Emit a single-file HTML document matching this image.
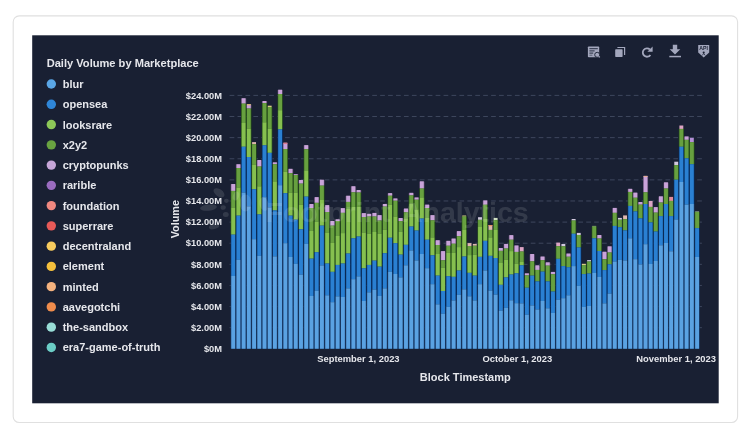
<!DOCTYPE html>
<html><head><meta charset="utf-8"><title>Daily Volume by Marketplace</title>
<style>html,body{margin:0;padding:0;background:#fff;}body{width:750px;height:436px;overflow:hidden;font-family:"Liberation Sans",sans-serif;}svg{display:block}text{font-family:"Liberation Sans",sans-serif;font-weight:bold;}</style>
</head><body>
<svg width="750" height="436" viewBox="0 0 750 436">
<rect x="0" y="0" width="750" height="436" fill="#ffffff"/>
<defs><filter id="idf" x="0" y="0" width="750" height="436" filterUnits="userSpaceOnUse" color-interpolation-filters="sRGB"><feGaussianBlur stdDeviation="0.35"/></filter></defs>
<g filter="url(#idf)">
<rect x="13.2" y="15.9" width="724.4" height="406.6" rx="6" ry="6" fill="#ffffff" stroke="#e0e0e0" stroke-width="1.1"/>
<rect x="32.2" y="35.3" width="686.5" height="368" fill="#192033"/>
<text x="46.7" y="67.2" font-size="11.1" fill="#e6e7ec">Daily Volume by Marketplace</text>
<circle cx="51.3" cy="84.05" r="4.7" fill="#5aa6e6"/>
<text x="62.7" y="88.05" font-size="11" fill="#e6e7ec">blur</text>
<circle cx="51.3" cy="104.31" r="4.7" fill="#2f86d8"/>
<text x="62.7" y="108.31" font-size="11" fill="#e6e7ec">opensea</text>
<circle cx="51.3" cy="124.57" r="4.7" fill="#8dc858"/>
<text x="62.7" y="128.57" font-size="11" fill="#e6e7ec">looksrare</text>
<circle cx="51.3" cy="144.83" r="4.7" fill="#69a341"/>
<text x="62.7" y="148.83" font-size="11" fill="#e6e7ec">x2y2</text>
<circle cx="51.3" cy="165.09" r="4.7" fill="#c6a6d8"/>
<text x="62.7" y="169.09" font-size="11" fill="#e6e7ec">cryptopunks</text>
<circle cx="51.3" cy="185.35" r="4.7" fill="#9a6cc0"/>
<text x="62.7" y="189.35" font-size="11" fill="#e6e7ec">rarible</text>
<circle cx="51.3" cy="205.61" r="4.7" fill="#f08880"/>
<text x="62.7" y="209.61" font-size="11" fill="#e6e7ec">foundation</text>
<circle cx="51.3" cy="225.87" r="4.7" fill="#e85a58"/>
<text x="62.7" y="229.87" font-size="11" fill="#e6e7ec">superrare</text>
<circle cx="51.3" cy="246.13" r="4.7" fill="#f8cc5e"/>
<text x="62.7" y="250.13" font-size="11" fill="#e6e7ec">decentraland</text>
<circle cx="51.3" cy="266.39" r="4.7" fill="#f5c03c"/>
<text x="62.7" y="270.39" font-size="11" fill="#e6e7ec">element</text>
<circle cx="51.3" cy="286.65" r="4.7" fill="#f5b27e"/>
<text x="62.7" y="290.65" font-size="11" fill="#e6e7ec">minted</text>
<circle cx="51.3" cy="306.91" r="4.7" fill="#f08c4c"/>
<text x="62.7" y="310.91" font-size="11" fill="#e6e7ec">aavegotchi</text>
<circle cx="51.3" cy="327.17" r="4.7" fill="#98ddd7"/>
<text x="62.7" y="331.17" font-size="11" fill="#e6e7ec">the-sandbox</text>
<circle cx="51.3" cy="347.43" r="4.7" fill="#6bcdc6"/>
<text x="62.7" y="351.43" font-size="11" fill="#e6e7ec">era7-game-of-truth</text>
<text transform="translate(222 352.00) scale(0.95 1)" x="0" y="0" font-size="9.8" text-anchor="end" fill="#e6e7ec">$0M</text>
<text transform="translate(222 330.88) scale(0.95 1)" x="0" y="0" font-size="9.8" text-anchor="end" fill="#e6e7ec">$2.00M</text>
<line x1="229.6" y1="327.68" x2="702" y2="327.68" stroke="#566079" stroke-width="0.6" stroke-dasharray="4.7 3.225"/>
<text transform="translate(222 309.77) scale(0.95 1)" x="0" y="0" font-size="9.8" text-anchor="end" fill="#e6e7ec">$4.00M</text>
<line x1="229.6" y1="306.57" x2="702" y2="306.57" stroke="#566079" stroke-width="0.6" stroke-dasharray="4.7 3.225"/>
<text transform="translate(222 288.65) scale(0.95 1)" x="0" y="0" font-size="9.8" text-anchor="end" fill="#e6e7ec">$6.00M</text>
<line x1="229.6" y1="285.45" x2="702" y2="285.45" stroke="#566079" stroke-width="0.6" stroke-dasharray="4.7 3.225"/>
<text transform="translate(222 267.53) scale(0.95 1)" x="0" y="0" font-size="9.8" text-anchor="end" fill="#e6e7ec">$8.00M</text>
<line x1="229.6" y1="264.33" x2="702" y2="264.33" stroke="#566079" stroke-width="0.6" stroke-dasharray="4.7 3.225"/>
<text transform="translate(222 246.41) scale(0.95 1)" x="0" y="0" font-size="9.8" text-anchor="end" fill="#e6e7ec">$10.00M</text>
<line x1="229.6" y1="243.21" x2="702" y2="243.21" stroke="#566079" stroke-width="0.6" stroke-dasharray="4.7 3.225"/>
<text transform="translate(222 225.30) scale(0.95 1)" x="0" y="0" font-size="9.8" text-anchor="end" fill="#e6e7ec">$12.00M</text>
<line x1="229.6" y1="222.10" x2="702" y2="222.10" stroke="#566079" stroke-width="0.6" stroke-dasharray="4.7 3.225"/>
<text transform="translate(222 204.18) scale(0.95 1)" x="0" y="0" font-size="9.8" text-anchor="end" fill="#e6e7ec">$14.00M</text>
<line x1="229.6" y1="200.98" x2="702" y2="200.98" stroke="#566079" stroke-width="0.6" stroke-dasharray="4.7 3.225"/>
<text transform="translate(222 183.06) scale(0.95 1)" x="0" y="0" font-size="9.8" text-anchor="end" fill="#e6e7ec">$16.00M</text>
<line x1="229.6" y1="179.86" x2="702" y2="179.86" stroke="#566079" stroke-width="0.6" stroke-dasharray="4.7 3.225"/>
<text transform="translate(222 161.95) scale(0.95 1)" x="0" y="0" font-size="9.8" text-anchor="end" fill="#e6e7ec">$18.00M</text>
<line x1="229.6" y1="158.75" x2="702" y2="158.75" stroke="#566079" stroke-width="0.6" stroke-dasharray="4.7 3.225"/>
<text transform="translate(222 140.83) scale(0.95 1)" x="0" y="0" font-size="9.8" text-anchor="end" fill="#e6e7ec">$20.00M</text>
<line x1="229.6" y1="137.63" x2="702" y2="137.63" stroke="#566079" stroke-width="0.6" stroke-dasharray="4.7 3.225"/>
<text transform="translate(222 119.71) scale(0.95 1)" x="0" y="0" font-size="9.8" text-anchor="end" fill="#e6e7ec">$22.00M</text>
<line x1="229.6" y1="116.51" x2="702" y2="116.51" stroke="#566079" stroke-width="0.6" stroke-dasharray="4.7 3.225"/>
<text transform="translate(222 98.60) scale(0.95 1)" x="0" y="0" font-size="9.8" text-anchor="end" fill="#e6e7ec">$24.00M</text>
<line x1="229.6" y1="95.40" x2="702" y2="95.40" stroke="#566079" stroke-width="0.6" stroke-dasharray="4.7 3.225"/>
<text transform="translate(178.6 219.2) rotate(-90)" font-size="10.8" text-anchor="middle" fill="#e6e7ec">Volume</text>
<g>
<rect x="230.60" y="184.30" width="5.26" height="6.65" fill="#504060"/>
<rect x="230.60" y="190.90" width="5.26" height="16.65" fill="#244a18"/>
<rect x="230.60" y="207.50" width="5.26" height="27.15" fill="#2c571e"/>
<rect x="230.60" y="234.60" width="5.26" height="41.35" fill="#062c60"/>
<rect x="230.60" y="275.90" width="5.26" height="72.85" fill="#163866"/>
<rect x="235.81" y="164.50" width="5.26" height="3.55" fill="#504060"/>
<rect x="235.81" y="168.00" width="5.26" height="19.55" fill="#244a18"/>
<rect x="235.81" y="187.50" width="5.26" height="28.15" fill="#2c571e"/>
<rect x="235.81" y="215.60" width="5.26" height="44.25" fill="#062c60"/>
<rect x="235.81" y="259.80" width="5.26" height="88.95" fill="#163866"/>
<rect x="241.02" y="98.50" width="5.26" height="5.15" fill="#504060"/>
<rect x="241.02" y="103.60" width="5.26" height="19.45" fill="#244a18"/>
<rect x="241.02" y="123.00" width="5.26" height="23.75" fill="#2c571e"/>
<rect x="241.02" y="146.70" width="5.26" height="45.95" fill="#062c60"/>
<rect x="241.02" y="192.60" width="5.26" height="156.15" fill="#163866"/>
<rect x="246.24" y="104.50" width="5.26" height="4.05" fill="#504060"/>
<rect x="246.24" y="108.50" width="5.26" height="20.25" fill="#244a18"/>
<rect x="246.24" y="128.70" width="5.26" height="28.35" fill="#2c571e"/>
<rect x="246.24" y="157.00" width="5.26" height="49.45" fill="#062c60"/>
<rect x="246.24" y="206.40" width="5.26" height="142.35" fill="#163866"/>
<rect x="251.45" y="144.20" width="5.26" height="20.65" fill="#244a18"/>
<rect x="251.45" y="164.80" width="5.26" height="24.45" fill="#2c571e"/>
<rect x="251.45" y="189.20" width="5.26" height="50.05" fill="#062c60"/>
<rect x="251.45" y="239.20" width="5.26" height="109.55" fill="#163866"/>
<rect x="256.66" y="160.30" width="5.26" height="6.25" fill="#504060"/>
<rect x="256.66" y="166.50" width="5.26" height="19.85" fill="#244a18"/>
<rect x="256.66" y="186.30" width="5.26" height="28.15" fill="#2c571e"/>
<rect x="256.66" y="214.40" width="5.26" height="41.45" fill="#062c60"/>
<rect x="256.66" y="255.80" width="5.26" height="92.95" fill="#163866"/>
<rect x="261.88" y="101.30" width="5.26" height="1.85" fill="#504060"/>
<rect x="261.88" y="103.10" width="5.26" height="19.25" fill="#244a18"/>
<rect x="261.88" y="122.30" width="5.26" height="23.05" fill="#2c571e"/>
<rect x="261.88" y="145.30" width="5.26" height="51.95" fill="#062c60"/>
<rect x="261.88" y="197.20" width="5.26" height="151.55" fill="#163866"/>
<rect x="267.09" y="107.00" width="5.26" height="21.75" fill="#244a18"/>
<rect x="267.09" y="128.70" width="5.26" height="24.15" fill="#2c571e"/>
<rect x="267.09" y="152.80" width="5.26" height="54.75" fill="#062c60"/>
<rect x="267.09" y="207.50" width="5.26" height="141.25" fill="#163866"/>
<rect x="272.31" y="162.60" width="5.26" height="1.65" fill="#504060"/>
<rect x="272.31" y="164.20" width="5.26" height="17.25" fill="#244a18"/>
<rect x="272.31" y="181.40" width="5.26" height="29.05" fill="#2c571e"/>
<rect x="272.31" y="210.40" width="5.26" height="46.05" fill="#062c60"/>
<rect x="272.31" y="256.40" width="5.26" height="92.35" fill="#163866"/>
<rect x="277.52" y="90.00" width="5.26" height="4.05" fill="#504060"/>
<rect x="277.52" y="94.00" width="5.26" height="16.25" fill="#244a18"/>
<rect x="277.52" y="110.20" width="5.26" height="19.25" fill="#2c571e"/>
<rect x="277.52" y="129.40" width="5.26" height="55.85" fill="#062c60"/>
<rect x="277.52" y="185.20" width="5.26" height="163.55" fill="#163866"/>
<rect x="282.74" y="143.00" width="5.26" height="6.05" fill="#504060"/>
<rect x="282.74" y="149.00" width="5.26" height="22.65" fill="#244a18"/>
<rect x="282.74" y="171.60" width="5.26" height="21.65" fill="#2c571e"/>
<rect x="282.74" y="193.20" width="5.26" height="50.05" fill="#062c60"/>
<rect x="282.74" y="243.20" width="5.26" height="105.55" fill="#163866"/>
<rect x="287.95" y="169.10" width="5.26" height="4.15" fill="#504060"/>
<rect x="287.95" y="173.20" width="5.26" height="19.45" fill="#244a18"/>
<rect x="287.95" y="192.60" width="5.26" height="23.05" fill="#2c571e"/>
<rect x="287.95" y="215.60" width="5.26" height="41.45" fill="#062c60"/>
<rect x="287.95" y="257.00" width="5.26" height="91.75" fill="#163866"/>
<rect x="293.16" y="174.50" width="5.26" height="0.55" fill="#504060"/>
<rect x="293.16" y="175.00" width="5.26" height="17.65" fill="#244a18"/>
<rect x="293.16" y="192.60" width="5.26" height="27.05" fill="#2c571e"/>
<rect x="293.16" y="219.60" width="5.26" height="44.25" fill="#062c60"/>
<rect x="293.16" y="263.80" width="5.26" height="84.95" fill="#163866"/>
<rect x="298.38" y="180.30" width="5.26" height="3.35" fill="#504060"/>
<rect x="298.38" y="183.60" width="5.26" height="21.15" fill="#244a18"/>
<rect x="298.38" y="204.70" width="5.26" height="24.65" fill="#2c571e"/>
<rect x="298.38" y="229.30" width="5.26" height="45.45" fill="#062c60"/>
<rect x="298.38" y="274.70" width="5.26" height="74.05" fill="#163866"/>
<rect x="303.59" y="145.40" width="5.28" height="3.85" fill="#504060"/>
<rect x="303.59" y="149.20" width="5.28" height="21.25" fill="#244a18"/>
<rect x="303.59" y="170.40" width="5.28" height="26.25" fill="#2c571e"/>
<rect x="303.59" y="196.60" width="5.28" height="47.25" fill="#062c60"/>
<rect x="303.59" y="243.80" width="5.28" height="104.95" fill="#163866"/>
<rect x="308.82" y="204.30" width="5.29" height="3.75" fill="#504060"/>
<rect x="308.82" y="208.00" width="5.29" height="22.85" fill="#244a18"/>
<rect x="308.82" y="230.80" width="5.29" height="27.85" fill="#2c571e"/>
<rect x="308.82" y="258.60" width="5.29" height="37.35" fill="#062c60"/>
<rect x="308.82" y="295.90" width="5.29" height="52.85" fill="#163866"/>
<rect x="314.07" y="197.40" width="5.29" height="5.45" fill="#504060"/>
<rect x="314.07" y="202.80" width="5.29" height="18.85" fill="#244a18"/>
<rect x="314.07" y="221.60" width="5.29" height="30.65" fill="#2c571e"/>
<rect x="314.07" y="252.20" width="5.29" height="38.55" fill="#062c60"/>
<rect x="314.07" y="290.70" width="5.29" height="58.05" fill="#163866"/>
<rect x="319.31" y="180.00" width="5.29" height="5.65" fill="#504060"/>
<rect x="319.31" y="185.60" width="5.29" height="14.45" fill="#244a18"/>
<rect x="319.31" y="200.00" width="5.29" height="25.65" fill="#2c571e"/>
<rect x="319.31" y="225.60" width="5.29" height="39.95" fill="#062c60"/>
<rect x="319.31" y="265.50" width="5.29" height="83.25" fill="#163866"/>
<rect x="324.55" y="205.40" width="5.29" height="6.65" fill="#504060"/>
<rect x="324.55" y="212.00" width="5.29" height="20.55" fill="#244a18"/>
<rect x="324.55" y="232.50" width="5.29" height="31.05" fill="#2c571e"/>
<rect x="324.55" y="263.50" width="5.29" height="31.85" fill="#062c60"/>
<rect x="324.55" y="295.30" width="5.29" height="53.45" fill="#163866"/>
<rect x="329.80" y="221.30" width="5.29" height="4.35" fill="#504060"/>
<rect x="329.80" y="225.60" width="5.29" height="17.25" fill="#244a18"/>
<rect x="329.80" y="242.80" width="5.29" height="29.05" fill="#2c571e"/>
<rect x="329.80" y="271.80" width="5.29" height="30.45" fill="#062c60"/>
<rect x="329.80" y="302.20" width="5.29" height="46.55" fill="#163866"/>
<rect x="335.04" y="219.60" width="5.29" height="1.45" fill="#504060"/>
<rect x="335.04" y="221.00" width="5.29" height="15.05" fill="#244a18"/>
<rect x="335.04" y="236.00" width="5.29" height="28.95" fill="#2c571e"/>
<rect x="335.04" y="264.90" width="5.29" height="31.55" fill="#062c60"/>
<rect x="335.04" y="296.40" width="5.29" height="52.35" fill="#163866"/>
<rect x="340.28" y="208.40" width="5.29" height="4.45" fill="#504060"/>
<rect x="340.28" y="212.80" width="5.29" height="20.35" fill="#244a18"/>
<rect x="340.28" y="233.10" width="5.29" height="30.45" fill="#2c571e"/>
<rect x="340.28" y="263.50" width="5.29" height="33.55" fill="#062c60"/>
<rect x="340.28" y="297.00" width="5.29" height="51.75" fill="#163866"/>
<rect x="345.53" y="196.00" width="5.29" height="5.95" fill="#504060"/>
<rect x="345.53" y="201.90" width="5.29" height="7.15" fill="#244a18"/>
<rect x="345.53" y="209.00" width="5.29" height="44.55" fill="#2c571e"/>
<rect x="345.53" y="253.50" width="5.29" height="34.95" fill="#062c60"/>
<rect x="345.53" y="288.40" width="5.29" height="60.35" fill="#163866"/>
<rect x="350.77" y="186.50" width="5.29" height="5.85" fill="#504060"/>
<rect x="350.77" y="192.30" width="5.29" height="14.65" fill="#244a18"/>
<rect x="350.77" y="206.90" width="5.29" height="31.45" fill="#2c571e"/>
<rect x="350.77" y="238.30" width="5.29" height="40.95" fill="#062c60"/>
<rect x="350.77" y="279.20" width="5.29" height="69.55" fill="#163866"/>
<rect x="356.02" y="190.30" width="5.29" height="2.25" fill="#504060"/>
<rect x="356.02" y="192.50" width="5.29" height="14.45" fill="#244a18"/>
<rect x="356.02" y="206.90" width="5.29" height="29.65" fill="#2c571e"/>
<rect x="356.02" y="236.50" width="5.29" height="39.95" fill="#062c60"/>
<rect x="356.02" y="276.40" width="5.29" height="72.35" fill="#163866"/>
<rect x="361.26" y="213.40" width="5.29" height="3.65" fill="#504060"/>
<rect x="361.26" y="217.00" width="5.29" height="15.55" fill="#244a18"/>
<rect x="361.26" y="232.50" width="5.29" height="35.85" fill="#2c571e"/>
<rect x="361.26" y="268.30" width="5.29" height="32.75" fill="#062c60"/>
<rect x="361.26" y="301.00" width="5.29" height="47.75" fill="#163866"/>
<rect x="366.50" y="214.10" width="5.29" height="2.45" fill="#504060"/>
<rect x="366.50" y="216.50" width="5.29" height="17.25" fill="#244a18"/>
<rect x="366.50" y="233.70" width="5.29" height="31.25" fill="#2c571e"/>
<rect x="366.50" y="264.90" width="5.29" height="27.55" fill="#062c60"/>
<rect x="366.50" y="292.40" width="5.29" height="56.35" fill="#163866"/>
<rect x="371.75" y="213.20" width="5.29" height="3.35" fill="#504060"/>
<rect x="371.75" y="216.50" width="5.29" height="15.55" fill="#244a18"/>
<rect x="371.75" y="232.00" width="5.29" height="28.65" fill="#2c571e"/>
<rect x="371.75" y="260.60" width="5.29" height="29.05" fill="#062c60"/>
<rect x="371.75" y="289.60" width="5.29" height="59.15" fill="#163866"/>
<rect x="376.99" y="215.40" width="5.29" height="5.15" fill="#504060"/>
<rect x="376.99" y="220.50" width="5.29" height="13.25" fill="#244a18"/>
<rect x="376.99" y="233.70" width="5.29" height="32.95" fill="#2c571e"/>
<rect x="376.99" y="266.60" width="5.29" height="29.35" fill="#062c60"/>
<rect x="376.99" y="295.90" width="5.29" height="52.85" fill="#163866"/>
<rect x="382.23" y="204.30" width="5.29" height="2.25" fill="#504060"/>
<rect x="382.23" y="206.50" width="5.29" height="23.25" fill="#244a18"/>
<rect x="382.23" y="229.70" width="5.29" height="23.55" fill="#2c571e"/>
<rect x="382.23" y="253.20" width="5.29" height="35.25" fill="#062c60"/>
<rect x="382.23" y="288.40" width="5.29" height="60.35" fill="#163866"/>
<rect x="387.48" y="193.40" width="5.32" height="2.35" fill="#504060"/>
<rect x="387.48" y="195.70" width="5.32" height="8.95" fill="#244a18"/>
<rect x="387.48" y="204.60" width="5.32" height="33.15" fill="#2c571e"/>
<rect x="387.48" y="237.70" width="5.32" height="34.15" fill="#062c60"/>
<rect x="387.48" y="271.80" width="5.32" height="76.95" fill="#163866"/>
<rect x="392.75" y="198.70" width="5.34" height="2.05" fill="#504060"/>
<rect x="392.75" y="200.70" width="5.34" height="15.85" fill="#244a18"/>
<rect x="392.75" y="216.50" width="5.34" height="26.75" fill="#2c571e"/>
<rect x="392.75" y="243.20" width="5.34" height="30.85" fill="#062c60"/>
<rect x="392.75" y="274.00" width="5.34" height="74.75" fill="#163866"/>
<rect x="398.04" y="218.30" width="5.34" height="2.85" fill="#504060"/>
<rect x="398.04" y="221.10" width="5.34" height="10.55" fill="#244a18"/>
<rect x="398.04" y="231.60" width="5.34" height="23.05" fill="#2c571e"/>
<rect x="398.04" y="254.60" width="5.34" height="22.85" fill="#062c60"/>
<rect x="398.04" y="277.40" width="5.34" height="71.35" fill="#163866"/>
<rect x="403.33" y="208.80" width="5.34" height="3.55" fill="#504060"/>
<rect x="403.33" y="212.30" width="5.34" height="6.15" fill="#244a18"/>
<rect x="403.33" y="218.40" width="5.34" height="26.45" fill="#2c571e"/>
<rect x="403.33" y="244.80" width="5.34" height="20.55" fill="#062c60"/>
<rect x="403.33" y="265.30" width="5.34" height="83.45" fill="#163866"/>
<rect x="408.63" y="193.10" width="5.34" height="2.35" fill="#504060"/>
<rect x="408.63" y="195.40" width="5.34" height="8.35" fill="#244a18"/>
<rect x="408.63" y="203.70" width="5.34" height="22.85" fill="#2c571e"/>
<rect x="408.63" y="226.50" width="5.34" height="24.05" fill="#062c60"/>
<rect x="408.63" y="250.50" width="5.34" height="98.25" fill="#163866"/>
<rect x="413.92" y="197.70" width="5.34" height="2.05" fill="#504060"/>
<rect x="413.92" y="199.70" width="5.34" height="9.75" fill="#244a18"/>
<rect x="413.92" y="209.40" width="5.34" height="21.15" fill="#2c571e"/>
<rect x="413.92" y="230.50" width="5.34" height="30.05" fill="#062c60"/>
<rect x="413.92" y="260.50" width="5.34" height="88.25" fill="#163866"/>
<rect x="419.22" y="181.60" width="5.34" height="6.95" fill="#504060"/>
<rect x="419.22" y="188.50" width="5.34" height="8.95" fill="#244a18"/>
<rect x="419.22" y="197.40" width="5.34" height="21.15" fill="#2c571e"/>
<rect x="419.22" y="218.50" width="5.34" height="35.55" fill="#062c60"/>
<rect x="419.22" y="254.00" width="5.34" height="94.75" fill="#163866"/>
<rect x="424.51" y="204.90" width="5.34" height="3.15" fill="#504060"/>
<rect x="424.51" y="208.00" width="5.34" height="10.05" fill="#244a18"/>
<rect x="424.51" y="218.00" width="5.34" height="21.75" fill="#2c571e"/>
<rect x="424.51" y="239.70" width="5.34" height="28.55" fill="#062c60"/>
<rect x="424.51" y="268.20" width="5.34" height="80.55" fill="#163866"/>
<rect x="429.80" y="215.40" width="5.34" height="4.95" fill="#504060"/>
<rect x="429.80" y="220.30" width="5.34" height="17.15" fill="#244a18"/>
<rect x="429.80" y="237.40" width="5.34" height="17.95" fill="#2c571e"/>
<rect x="429.80" y="255.30" width="5.34" height="28.95" fill="#062c60"/>
<rect x="429.80" y="284.20" width="5.34" height="64.55" fill="#163866"/>
<rect x="435.10" y="240.50" width="5.34" height="4.55" fill="#504060"/>
<rect x="435.10" y="245.00" width="5.34" height="9.05" fill="#244a18"/>
<rect x="435.10" y="254.00" width="5.34" height="21.65" fill="#2c571e"/>
<rect x="435.10" y="275.60" width="5.34" height="28.85" fill="#062c60"/>
<rect x="435.10" y="304.40" width="5.34" height="44.35" fill="#163866"/>
<rect x="440.39" y="251.40" width="5.34" height="8.95" fill="#504060"/>
<rect x="440.39" y="260.30" width="5.34" height="7.35" fill="#244a18"/>
<rect x="440.39" y="267.60" width="5.34" height="23.45" fill="#2c571e"/>
<rect x="440.39" y="291.00" width="5.34" height="22.75" fill="#062c60"/>
<rect x="440.39" y="313.70" width="5.34" height="35.05" fill="#163866"/>
<rect x="445.68" y="241.10" width="5.34" height="4.65" fill="#504060"/>
<rect x="445.68" y="245.70" width="5.34" height="7.15" fill="#244a18"/>
<rect x="445.68" y="252.80" width="5.34" height="23.45" fill="#2c571e"/>
<rect x="445.68" y="276.20" width="5.34" height="30.65" fill="#062c60"/>
<rect x="445.68" y="306.80" width="5.34" height="41.95" fill="#163866"/>
<rect x="450.98" y="238.80" width="5.34" height="4.95" fill="#504060"/>
<rect x="450.98" y="243.70" width="5.34" height="9.15" fill="#244a18"/>
<rect x="450.98" y="252.80" width="5.34" height="24.05" fill="#2c571e"/>
<rect x="450.98" y="276.80" width="5.34" height="23.75" fill="#062c60"/>
<rect x="450.98" y="300.50" width="5.34" height="48.25" fill="#163866"/>
<rect x="456.27" y="231.40" width="5.34" height="4.85" fill="#504060"/>
<rect x="456.27" y="236.20" width="5.34" height="10.95" fill="#244a18"/>
<rect x="456.27" y="247.10" width="5.34" height="23.45" fill="#2c571e"/>
<rect x="456.27" y="270.50" width="5.34" height="24.35" fill="#062c60"/>
<rect x="456.27" y="294.80" width="5.34" height="53.95" fill="#163866"/>
<rect x="461.57" y="216.50" width="5.34" height="13.45" fill="#244a18"/>
<rect x="461.57" y="229.90" width="5.34" height="26.65" fill="#2c571e"/>
<rect x="461.57" y="256.50" width="5.34" height="32.95" fill="#062c60"/>
<rect x="461.57" y="289.40" width="5.34" height="59.35" fill="#163866"/>
<rect x="466.86" y="246.00" width="5.34" height="9.15" fill="#244a18"/>
<rect x="466.86" y="255.10" width="5.34" height="17.75" fill="#2c571e"/>
<rect x="466.86" y="272.80" width="5.34" height="23.55" fill="#062c60"/>
<rect x="466.86" y="296.30" width="5.34" height="52.45" fill="#163866"/>
<rect x="472.15" y="245.70" width="5.30" height="8.95" fill="#244a18"/>
<rect x="472.15" y="254.60" width="5.30" height="21.05" fill="#2c571e"/>
<rect x="472.15" y="275.60" width="5.30" height="24.95" fill="#062c60"/>
<rect x="472.15" y="300.50" width="5.30" height="48.25" fill="#163866"/>
<rect x="477.41" y="219.80" width="5.26" height="7.25" fill="#244a18"/>
<rect x="477.41" y="227.00" width="5.26" height="29.85" fill="#2c571e"/>
<rect x="477.41" y="256.80" width="5.26" height="27.45" fill="#062c60"/>
<rect x="477.41" y="284.20" width="5.26" height="64.55" fill="#163866"/>
<rect x="482.62" y="200.70" width="5.26" height="4.05" fill="#504060"/>
<rect x="482.62" y="204.70" width="5.26" height="14.35" fill="#244a18"/>
<rect x="482.62" y="219.00" width="5.26" height="21.85" fill="#2c571e"/>
<rect x="482.62" y="240.80" width="5.26" height="29.75" fill="#062c60"/>
<rect x="482.62" y="270.50" width="5.26" height="78.25" fill="#163866"/>
<rect x="487.83" y="229.90" width="5.26" height="7.55" fill="#244a18"/>
<rect x="487.83" y="237.40" width="5.26" height="18.45" fill="#2c571e"/>
<rect x="487.83" y="255.80" width="5.26" height="34.85" fill="#062c60"/>
<rect x="487.83" y="290.60" width="5.26" height="58.15" fill="#163866"/>
<rect x="493.04" y="220.20" width="5.26" height="9.75" fill="#244a18"/>
<rect x="493.04" y="229.90" width="5.26" height="28.15" fill="#2c571e"/>
<rect x="493.04" y="258.00" width="5.26" height="36.65" fill="#062c60"/>
<rect x="493.04" y="294.60" width="5.26" height="54.15" fill="#163866"/>
<rect x="498.26" y="248.30" width="5.26" height="2.55" fill="#504060"/>
<rect x="498.26" y="250.80" width="5.26" height="12.25" fill="#244a18"/>
<rect x="498.26" y="263.00" width="5.26" height="21.85" fill="#2c571e"/>
<rect x="498.26" y="284.80" width="5.26" height="25.85" fill="#062c60"/>
<rect x="498.26" y="310.60" width="5.26" height="38.15" fill="#163866"/>
<rect x="503.47" y="244.20" width="5.26" height="4.35" fill="#504060"/>
<rect x="503.47" y="248.50" width="5.26" height="11.15" fill="#244a18"/>
<rect x="503.47" y="259.60" width="5.26" height="17.85" fill="#2c571e"/>
<rect x="503.47" y="277.40" width="5.26" height="30.45" fill="#062c60"/>
<rect x="503.47" y="307.80" width="5.26" height="40.95" fill="#163866"/>
<rect x="508.68" y="235.40" width="5.26" height="4.35" fill="#504060"/>
<rect x="508.68" y="239.70" width="5.26" height="11.45" fill="#244a18"/>
<rect x="508.68" y="251.10" width="5.26" height="23.45" fill="#2c571e"/>
<rect x="508.68" y="274.50" width="5.26" height="25.85" fill="#062c60"/>
<rect x="508.68" y="300.30" width="5.26" height="48.45" fill="#163866"/>
<rect x="513.89" y="245.70" width="5.26" height="6.25" fill="#504060"/>
<rect x="513.89" y="251.90" width="5.26" height="11.75" fill="#244a18"/>
<rect x="513.89" y="263.60" width="5.26" height="9.75" fill="#2c571e"/>
<rect x="513.89" y="273.30" width="5.26" height="29.95" fill="#062c60"/>
<rect x="513.89" y="303.20" width="5.26" height="45.55" fill="#163866"/>
<rect x="519.11" y="251.50" width="5.26" height="10.45" fill="#244a18"/>
<rect x="519.11" y="261.90" width="5.26" height="3.45" fill="#2c571e"/>
<rect x="519.11" y="265.30" width="5.26" height="38.15" fill="#062c60"/>
<rect x="519.11" y="303.40" width="5.26" height="45.35" fill="#163866"/>
<rect x="524.32" y="273.60" width="5.26" height="1.85" fill="#504060"/>
<rect x="524.32" y="275.40" width="5.26" height="12.35" fill="#244a18"/>
<rect x="524.32" y="287.70" width="5.26" height="27.05" fill="#062c60"/>
<rect x="524.32" y="314.70" width="5.26" height="34.05" fill="#163866"/>
<rect x="529.53" y="254.30" width="5.26" height="7.05" fill="#504060"/>
<rect x="529.53" y="261.30" width="5.26" height="14.35" fill="#244a18"/>
<rect x="529.53" y="275.60" width="5.26" height="29.95" fill="#062c60"/>
<rect x="529.53" y="305.50" width="5.26" height="43.25" fill="#163866"/>
<rect x="534.74" y="265.60" width="5.26" height="4.35" fill="#504060"/>
<rect x="534.74" y="269.90" width="5.26" height="11.55" fill="#244a18"/>
<rect x="534.74" y="281.40" width="5.26" height="28.15" fill="#062c60"/>
<rect x="534.74" y="309.50" width="5.26" height="39.25" fill="#163866"/>
<rect x="539.96" y="256.80" width="5.26" height="3.45" fill="#504060"/>
<rect x="539.96" y="260.20" width="5.26" height="11.45" fill="#244a18"/>
<rect x="539.96" y="271.60" width="5.26" height="29.35" fill="#062c60"/>
<rect x="539.96" y="300.90" width="5.26" height="47.85" fill="#163866"/>
<rect x="545.17" y="262.60" width="5.26" height="3.05" fill="#504060"/>
<rect x="545.17" y="265.60" width="5.26" height="15.85" fill="#244a18"/>
<rect x="545.17" y="281.40" width="5.26" height="26.95" fill="#062c60"/>
<rect x="545.17" y="308.30" width="5.26" height="40.45" fill="#163866"/>
<rect x="550.38" y="272.20" width="5.26" height="2.05" fill="#504060"/>
<rect x="550.38" y="274.20" width="5.26" height="17.35" fill="#244a18"/>
<rect x="550.38" y="291.50" width="5.26" height="21.45" fill="#062c60"/>
<rect x="550.38" y="312.90" width="5.26" height="35.85" fill="#163866"/>
<rect x="555.59" y="246.20" width="5.23" height="12.65" fill="#244a18"/>
<rect x="555.59" y="258.80" width="5.23" height="40.95" fill="#062c60"/>
<rect x="555.59" y="299.70" width="5.23" height="49.05" fill="#163866"/>
<rect x="560.77" y="246.30" width="5.19" height="19.85" fill="#244a18"/>
<rect x="560.77" y="266.10" width="5.19" height="32.15" fill="#062c60"/>
<rect x="560.77" y="298.20" width="5.19" height="50.55" fill="#163866"/>
<rect x="565.91" y="253.80" width="5.19" height="2.95" fill="#504060"/>
<rect x="565.91" y="256.70" width="5.19" height="10.55" fill="#244a18"/>
<rect x="565.91" y="267.20" width="5.19" height="28.15" fill="#062c60"/>
<rect x="565.91" y="295.30" width="5.19" height="53.45" fill="#163866"/>
<rect x="571.06" y="220.50" width="5.19" height="13.25" fill="#244a18"/>
<rect x="571.06" y="233.70" width="5.19" height="32.45" fill="#062c60"/>
<rect x="571.06" y="266.10" width="5.19" height="82.65" fill="#163866"/>
<rect x="576.20" y="235.00" width="5.19" height="12.45" fill="#244a18"/>
<rect x="576.20" y="247.40" width="5.19" height="38.45" fill="#062c60"/>
<rect x="576.20" y="285.80" width="5.19" height="62.95" fill="#163866"/>
<rect x="581.34" y="265.10" width="5.19" height="9.05" fill="#244a18"/>
<rect x="581.34" y="274.10" width="5.19" height="32.85" fill="#062c60"/>
<rect x="581.34" y="306.90" width="5.19" height="41.85" fill="#163866"/>
<rect x="586.49" y="261.50" width="5.19" height="12.05" fill="#244a18"/>
<rect x="586.49" y="273.50" width="5.19" height="32.55" fill="#062c60"/>
<rect x="586.49" y="306.00" width="5.19" height="42.75" fill="#163866"/>
<rect x="591.63" y="226.50" width="5.19" height="11.85" fill="#244a18"/>
<rect x="591.63" y="238.30" width="5.19" height="34.65" fill="#062c60"/>
<rect x="591.63" y="272.90" width="5.19" height="75.85" fill="#163866"/>
<rect x="596.77" y="235.30" width="5.19" height="3.25" fill="#504060"/>
<rect x="596.77" y="238.50" width="5.19" height="12.55" fill="#244a18"/>
<rect x="596.77" y="251.00" width="5.19" height="25.95" fill="#062c60"/>
<rect x="596.77" y="276.90" width="5.19" height="71.85" fill="#163866"/>
<rect x="601.91" y="252.00" width="5.19" height="7.25" fill="#504060"/>
<rect x="601.91" y="259.20" width="5.19" height="10.95" fill="#244a18"/>
<rect x="601.91" y="270.10" width="5.19" height="33.35" fill="#062c60"/>
<rect x="601.91" y="303.40" width="5.19" height="45.35" fill="#163866"/>
<rect x="607.06" y="246.60" width="5.19" height="5.95" fill="#504060"/>
<rect x="607.06" y="252.50" width="5.19" height="11.85" fill="#244a18"/>
<rect x="607.06" y="264.30" width="5.19" height="29.35" fill="#062c60"/>
<rect x="607.06" y="293.60" width="5.19" height="55.15" fill="#163866"/>
<rect x="612.20" y="208.20" width="5.19" height="4.65" fill="#504060"/>
<rect x="612.20" y="212.80" width="5.19" height="13.15" fill="#244a18"/>
<rect x="612.20" y="225.90" width="5.19" height="35.65" fill="#062c60"/>
<rect x="612.20" y="261.50" width="5.19" height="87.25" fill="#163866"/>
<rect x="617.34" y="219.70" width="5.19" height="7.55" fill="#244a18"/>
<rect x="617.34" y="227.20" width="5.19" height="32.65" fill="#062c60"/>
<rect x="617.34" y="259.80" width="5.19" height="88.95" fill="#163866"/>
<rect x="622.49" y="219.10" width="5.19" height="11.35" fill="#244a18"/>
<rect x="622.49" y="230.40" width="5.19" height="30.15" fill="#062c60"/>
<rect x="622.49" y="260.50" width="5.19" height="88.25" fill="#163866"/>
<rect x="627.63" y="189.10" width="5.18" height="2.85" fill="#504060"/>
<rect x="627.63" y="191.90" width="5.18" height="14.05" fill="#244a18"/>
<rect x="627.63" y="205.90" width="5.18" height="32.45" fill="#062c60"/>
<rect x="627.63" y="238.30" width="5.18" height="110.45" fill="#163866"/>
<rect x="632.76" y="192.90" width="5.17" height="4.85" fill="#504060"/>
<rect x="632.76" y="197.70" width="5.17" height="13.75" fill="#244a18"/>
<rect x="632.76" y="211.40" width="5.17" height="47.85" fill="#062c60"/>
<rect x="632.76" y="259.20" width="5.17" height="89.55" fill="#163866"/>
<rect x="637.87" y="202.30" width="5.17" height="2.35" fill="#504060"/>
<rect x="637.87" y="204.60" width="5.17" height="13.75" fill="#244a18"/>
<rect x="637.87" y="218.30" width="5.17" height="46.25" fill="#062c60"/>
<rect x="637.87" y="264.50" width="5.17" height="84.25" fill="#163866"/>
<rect x="642.99" y="176.20" width="5.17" height="16.15" fill="#504060"/>
<rect x="642.99" y="192.30" width="5.17" height="11.75" fill="#244a18"/>
<rect x="642.99" y="204.00" width="5.17" height="40.25" fill="#062c60"/>
<rect x="642.99" y="244.20" width="5.17" height="104.55" fill="#163866"/>
<rect x="648.10" y="206.90" width="5.17" height="15.55" fill="#244a18"/>
<rect x="648.10" y="222.40" width="5.17" height="41.55" fill="#062c60"/>
<rect x="648.10" y="263.90" width="5.17" height="84.85" fill="#163866"/>
<rect x="653.22" y="207.40" width="5.16" height="5.25" fill="#504060"/>
<rect x="653.22" y="212.60" width="5.16" height="18.95" fill="#244a18"/>
<rect x="653.22" y="231.50" width="5.16" height="29.55" fill="#062c60"/>
<rect x="653.22" y="261.00" width="5.16" height="87.75" fill="#163866"/>
<rect x="658.33" y="196.60" width="5.17" height="5.95" fill="#504060"/>
<rect x="658.33" y="202.50" width="5.17" height="13.65" fill="#244a18"/>
<rect x="658.33" y="216.10" width="5.17" height="29.25" fill="#062c60"/>
<rect x="658.33" y="245.30" width="5.17" height="103.45" fill="#163866"/>
<rect x="663.45" y="182.60" width="5.17" height="5.95" fill="#504060"/>
<rect x="663.45" y="188.50" width="5.17" height="15.55" fill="#244a18"/>
<rect x="663.45" y="204.00" width="5.17" height="39.05" fill="#062c60"/>
<rect x="663.45" y="243.00" width="5.17" height="105.75" fill="#163866"/>
<rect x="668.56" y="200.90" width="5.17" height="15.25" fill="#244a18"/>
<rect x="668.56" y="216.10" width="5.17" height="35.25" fill="#062c60"/>
<rect x="668.56" y="251.30" width="5.17" height="97.45" fill="#163866"/>
<rect x="673.68" y="165.10" width="5.17" height="14.65" fill="#244a18"/>
<rect x="673.68" y="179.70" width="5.17" height="39.85" fill="#062c60"/>
<rect x="673.68" y="219.50" width="5.17" height="129.25" fill="#163866"/>
<rect x="678.79" y="128.90" width="5.23" height="17.85" fill="#244a18"/>
<rect x="678.79" y="146.70" width="5.23" height="35.35" fill="#062c60"/>
<rect x="678.79" y="182.00" width="5.23" height="166.75" fill="#163866"/>
<rect x="683.98" y="136.70" width="5.30" height="3.15" fill="#504060"/>
<rect x="683.98" y="139.80" width="5.30" height="18.55" fill="#244a18"/>
<rect x="683.98" y="158.30" width="5.30" height="46.35" fill="#062c60"/>
<rect x="683.98" y="204.60" width="5.30" height="144.15" fill="#163866"/>
<rect x="689.23" y="142.10" width="5.30" height="22.15" fill="#244a18"/>
<rect x="689.23" y="164.20" width="5.30" height="39.85" fill="#062c60"/>
<rect x="689.23" y="204.00" width="5.30" height="144.75" fill="#163866"/>
<rect x="694.48" y="212.00" width="5.28" height="16.15" fill="#244a18"/>
<rect x="694.48" y="228.10" width="5.28" height="28.95" fill="#062c60"/>
<rect x="694.48" y="257.00" width="5.28" height="91.75" fill="#163866"/>
<rect x="231.25" y="184.00" width="3.9" height="6.95" fill="#c9a3d9"/>
<rect x="231.25" y="190.90" width="3.9" height="16.65" fill="#67a03f"/>
<rect x="231.25" y="207.50" width="3.9" height="27.15" fill="#86c04f"/>
<rect x="231.25" y="234.60" width="3.9" height="41.35" fill="#2a80d2"/>
<rect x="231.25" y="275.90" width="3.9" height="72.85" fill="#5aa2e2"/>
<rect x="236.46" y="164.20" width="3.9" height="3.85" fill="#c9a3d9"/>
<rect x="236.46" y="168.00" width="3.9" height="19.55" fill="#67a03f"/>
<rect x="236.46" y="187.50" width="3.9" height="28.15" fill="#86c04f"/>
<rect x="236.46" y="215.60" width="3.9" height="44.25" fill="#2a80d2"/>
<rect x="236.46" y="259.80" width="3.9" height="88.95" fill="#5aa2e2"/>
<rect x="241.68" y="98.20" width="3.9" height="5.45" fill="#c9a3d9"/>
<rect x="241.68" y="103.60" width="3.9" height="19.45" fill="#67a03f"/>
<rect x="241.68" y="123.00" width="3.9" height="23.75" fill="#86c04f"/>
<rect x="241.68" y="146.70" width="3.9" height="45.95" fill="#2a80d2"/>
<rect x="241.68" y="192.60" width="3.9" height="156.15" fill="#5aa2e2"/>
<rect x="246.89" y="104.20" width="3.9" height="4.35" fill="#c9a3d9"/>
<rect x="246.89" y="108.50" width="3.9" height="20.25" fill="#67a03f"/>
<rect x="246.89" y="128.70" width="3.9" height="28.35" fill="#86c04f"/>
<rect x="246.89" y="157.00" width="3.9" height="49.45" fill="#2a80d2"/>
<rect x="246.89" y="206.40" width="3.9" height="142.35" fill="#5aa2e2"/>
<rect x="246.89" y="104.20" width="3.9" height="1" fill="#e3c45e"/>
<rect x="252.11" y="142.10" width="3.9" height="2.15" fill="#dfb8ae"/>
<rect x="252.11" y="144.20" width="3.9" height="20.65" fill="#67a03f"/>
<rect x="252.11" y="164.80" width="3.9" height="24.45" fill="#86c04f"/>
<rect x="252.11" y="189.20" width="3.9" height="50.05" fill="#2a80d2"/>
<rect x="252.11" y="239.20" width="3.9" height="109.55" fill="#5aa2e2"/>
<rect x="257.32" y="160.00" width="3.9" height="6.55" fill="#c9a3d9"/>
<rect x="257.32" y="166.50" width="3.9" height="19.85" fill="#67a03f"/>
<rect x="257.32" y="186.30" width="3.9" height="28.15" fill="#86c04f"/>
<rect x="257.32" y="214.40" width="3.9" height="41.45" fill="#2a80d2"/>
<rect x="257.32" y="255.80" width="3.9" height="92.95" fill="#5aa2e2"/>
<rect x="262.54" y="101.00" width="3.9" height="2.15" fill="#c9a3d9"/>
<rect x="262.54" y="103.10" width="3.9" height="19.25" fill="#67a03f"/>
<rect x="262.54" y="122.30" width="3.9" height="23.05" fill="#86c04f"/>
<rect x="262.54" y="145.30" width="3.9" height="51.95" fill="#2a80d2"/>
<rect x="262.54" y="197.20" width="3.9" height="151.55" fill="#5aa2e2"/>
<rect x="267.75" y="105.70" width="3.9" height="1.35" fill="#d9cf86"/>
<rect x="267.75" y="107.00" width="3.9" height="21.75" fill="#67a03f"/>
<rect x="267.75" y="128.70" width="3.9" height="24.15" fill="#86c04f"/>
<rect x="267.75" y="152.80" width="3.9" height="54.75" fill="#2a80d2"/>
<rect x="267.75" y="207.50" width="3.9" height="141.25" fill="#5aa2e2"/>
<rect x="272.96" y="162.30" width="3.9" height="1.95" fill="#c9a3d9"/>
<rect x="272.96" y="164.20" width="3.9" height="17.25" fill="#67a03f"/>
<rect x="272.96" y="181.40" width="3.9" height="29.05" fill="#86c04f"/>
<rect x="272.96" y="210.40" width="3.9" height="46.05" fill="#2a80d2"/>
<rect x="272.96" y="256.40" width="3.9" height="92.35" fill="#5aa2e2"/>
<rect x="278.18" y="89.70" width="3.9" height="4.35" fill="#c9a3d9"/>
<rect x="278.18" y="94.00" width="3.9" height="16.25" fill="#67a03f"/>
<rect x="278.18" y="110.20" width="3.9" height="19.25" fill="#86c04f"/>
<rect x="278.18" y="129.40" width="3.9" height="55.85" fill="#2a80d2"/>
<rect x="278.18" y="185.20" width="3.9" height="163.55" fill="#5aa2e2"/>
<rect x="283.39" y="142.70" width="3.9" height="6.35" fill="#c9a3d9"/>
<rect x="283.39" y="149.00" width="3.9" height="22.65" fill="#67a03f"/>
<rect x="283.39" y="171.60" width="3.9" height="21.65" fill="#86c04f"/>
<rect x="283.39" y="193.20" width="3.9" height="50.05" fill="#2a80d2"/>
<rect x="283.39" y="243.20" width="3.9" height="105.55" fill="#5aa2e2"/>
<rect x="283.39" y="142.70" width="3.9" height="1" fill="#e06a6a"/>
<rect x="288.61" y="168.80" width="3.9" height="4.45" fill="#c9a3d9"/>
<rect x="288.61" y="173.20" width="3.9" height="19.45" fill="#67a03f"/>
<rect x="288.61" y="192.60" width="3.9" height="23.05" fill="#86c04f"/>
<rect x="288.61" y="215.60" width="3.9" height="41.45" fill="#2a80d2"/>
<rect x="288.61" y="257.00" width="3.9" height="91.75" fill="#5aa2e2"/>
<rect x="293.82" y="174.20" width="3.9" height="0.85" fill="#c9a3d9"/>
<rect x="293.82" y="175.00" width="3.9" height="17.65" fill="#67a03f"/>
<rect x="293.82" y="192.60" width="3.9" height="27.05" fill="#86c04f"/>
<rect x="293.82" y="219.60" width="3.9" height="44.25" fill="#2a80d2"/>
<rect x="293.82" y="263.80" width="3.9" height="84.95" fill="#5aa2e2"/>
<rect x="299.04" y="180.00" width="3.9" height="3.65" fill="#c9a3d9"/>
<rect x="299.04" y="183.60" width="3.9" height="21.15" fill="#67a03f"/>
<rect x="299.04" y="204.70" width="3.9" height="24.65" fill="#86c04f"/>
<rect x="299.04" y="229.30" width="3.9" height="45.45" fill="#2a80d2"/>
<rect x="299.04" y="274.70" width="3.9" height="74.05" fill="#5aa2e2"/>
<rect x="304.25" y="145.10" width="3.9" height="4.15" fill="#c9a3d9"/>
<rect x="304.25" y="149.20" width="3.9" height="21.25" fill="#67a03f"/>
<rect x="304.25" y="170.40" width="3.9" height="26.25" fill="#86c04f"/>
<rect x="304.25" y="196.60" width="3.9" height="47.25" fill="#2a80d2"/>
<rect x="304.25" y="243.80" width="3.9" height="104.95" fill="#5aa2e2"/>
<rect x="309.49" y="204.00" width="3.9" height="4.05" fill="#c9a3d9"/>
<rect x="309.49" y="208.00" width="3.9" height="22.85" fill="#67a03f"/>
<rect x="309.49" y="230.80" width="3.9" height="27.85" fill="#86c04f"/>
<rect x="309.49" y="258.60" width="3.9" height="37.35" fill="#2a80d2"/>
<rect x="309.49" y="295.90" width="3.9" height="52.85" fill="#5aa2e2"/>
<rect x="314.74" y="197.10" width="3.9" height="5.75" fill="#c9a3d9"/>
<rect x="314.74" y="202.80" width="3.9" height="18.85" fill="#67a03f"/>
<rect x="314.74" y="221.60" width="3.9" height="30.65" fill="#86c04f"/>
<rect x="314.74" y="252.20" width="3.9" height="38.55" fill="#2a80d2"/>
<rect x="314.74" y="290.70" width="3.9" height="58.05" fill="#5aa2e2"/>
<rect x="319.98" y="179.70" width="3.9" height="5.95" fill="#c9a3d9"/>
<rect x="319.98" y="185.60" width="3.9" height="14.45" fill="#67a03f"/>
<rect x="319.98" y="200.00" width="3.9" height="25.65" fill="#86c04f"/>
<rect x="319.98" y="225.60" width="3.9" height="39.95" fill="#2a80d2"/>
<rect x="319.98" y="265.50" width="3.9" height="83.25" fill="#5aa2e2"/>
<rect x="325.23" y="205.10" width="3.9" height="6.95" fill="#c9a3d9"/>
<rect x="325.23" y="212.00" width="3.9" height="20.55" fill="#67a03f"/>
<rect x="325.23" y="232.50" width="3.9" height="31.05" fill="#86c04f"/>
<rect x="325.23" y="263.50" width="3.9" height="31.85" fill="#2a80d2"/>
<rect x="325.23" y="295.30" width="3.9" height="53.45" fill="#5aa2e2"/>
<rect x="330.47" y="221.00" width="3.9" height="4.65" fill="#c9a3d9"/>
<rect x="330.47" y="225.60" width="3.9" height="17.25" fill="#67a03f"/>
<rect x="330.47" y="242.80" width="3.9" height="29.05" fill="#86c04f"/>
<rect x="330.47" y="271.80" width="3.9" height="30.45" fill="#2a80d2"/>
<rect x="330.47" y="302.20" width="3.9" height="46.55" fill="#5aa2e2"/>
<rect x="335.71" y="219.30" width="3.9" height="1.75" fill="#c9a3d9"/>
<rect x="335.71" y="221.00" width="3.9" height="15.05" fill="#67a03f"/>
<rect x="335.71" y="236.00" width="3.9" height="28.95" fill="#86c04f"/>
<rect x="335.71" y="264.90" width="3.9" height="31.55" fill="#2a80d2"/>
<rect x="335.71" y="296.40" width="3.9" height="52.35" fill="#5aa2e2"/>
<rect x="340.96" y="208.10" width="3.9" height="4.75" fill="#c9a3d9"/>
<rect x="340.96" y="212.80" width="3.9" height="20.35" fill="#67a03f"/>
<rect x="340.96" y="233.10" width="3.9" height="30.45" fill="#86c04f"/>
<rect x="340.96" y="263.50" width="3.9" height="33.55" fill="#2a80d2"/>
<rect x="340.96" y="297.00" width="3.9" height="51.75" fill="#5aa2e2"/>
<rect x="346.20" y="195.70" width="3.9" height="6.25" fill="#c9a3d9"/>
<rect x="346.20" y="201.90" width="3.9" height="7.15" fill="#67a03f"/>
<rect x="346.20" y="209.00" width="3.9" height="44.55" fill="#86c04f"/>
<rect x="346.20" y="253.50" width="3.9" height="34.95" fill="#2a80d2"/>
<rect x="346.20" y="288.40" width="3.9" height="60.35" fill="#5aa2e2"/>
<rect x="351.44" y="186.20" width="3.9" height="6.15" fill="#c9a3d9"/>
<rect x="351.44" y="192.30" width="3.9" height="14.65" fill="#67a03f"/>
<rect x="351.44" y="206.90" width="3.9" height="31.45" fill="#86c04f"/>
<rect x="351.44" y="238.30" width="3.9" height="40.95" fill="#2a80d2"/>
<rect x="351.44" y="279.20" width="3.9" height="69.55" fill="#5aa2e2"/>
<rect x="356.69" y="190.00" width="3.9" height="2.55" fill="#c9a3d9"/>
<rect x="356.69" y="192.50" width="3.9" height="14.45" fill="#67a03f"/>
<rect x="356.69" y="206.90" width="3.9" height="29.65" fill="#86c04f"/>
<rect x="356.69" y="236.50" width="3.9" height="39.95" fill="#2a80d2"/>
<rect x="356.69" y="276.40" width="3.9" height="72.35" fill="#5aa2e2"/>
<rect x="361.93" y="213.10" width="3.9" height="3.95" fill="#c9a3d9"/>
<rect x="361.93" y="217.00" width="3.9" height="15.55" fill="#67a03f"/>
<rect x="361.93" y="232.50" width="3.9" height="35.85" fill="#86c04f"/>
<rect x="361.93" y="268.30" width="3.9" height="32.75" fill="#2a80d2"/>
<rect x="361.93" y="301.00" width="3.9" height="47.75" fill="#5aa2e2"/>
<rect x="367.18" y="213.80" width="3.9" height="2.75" fill="#c9a3d9"/>
<rect x="367.18" y="216.50" width="3.9" height="17.25" fill="#67a03f"/>
<rect x="367.18" y="233.70" width="3.9" height="31.25" fill="#86c04f"/>
<rect x="367.18" y="264.90" width="3.9" height="27.55" fill="#2a80d2"/>
<rect x="367.18" y="292.40" width="3.9" height="56.35" fill="#5aa2e2"/>
<rect x="372.42" y="212.90" width="3.9" height="3.65" fill="#c9a3d9"/>
<rect x="372.42" y="216.50" width="3.9" height="15.55" fill="#67a03f"/>
<rect x="372.42" y="232.00" width="3.9" height="28.65" fill="#86c04f"/>
<rect x="372.42" y="260.60" width="3.9" height="29.05" fill="#2a80d2"/>
<rect x="372.42" y="289.60" width="3.9" height="59.15" fill="#5aa2e2"/>
<rect x="377.66" y="215.10" width="3.9" height="5.45" fill="#c9a3d9"/>
<rect x="377.66" y="220.50" width="3.9" height="13.25" fill="#67a03f"/>
<rect x="377.66" y="233.70" width="3.9" height="32.95" fill="#86c04f"/>
<rect x="377.66" y="266.60" width="3.9" height="29.35" fill="#2a80d2"/>
<rect x="377.66" y="295.90" width="3.9" height="52.85" fill="#5aa2e2"/>
<rect x="382.91" y="204.00" width="3.9" height="2.55" fill="#c9a3d9"/>
<rect x="382.91" y="206.50" width="3.9" height="23.25" fill="#67a03f"/>
<rect x="382.91" y="229.70" width="3.9" height="23.55" fill="#86c04f"/>
<rect x="382.91" y="253.20" width="3.9" height="35.25" fill="#2a80d2"/>
<rect x="382.91" y="288.40" width="3.9" height="60.35" fill="#5aa2e2"/>
<rect x="388.15" y="193.10" width="3.9" height="2.65" fill="#c9a3d9"/>
<rect x="388.15" y="195.70" width="3.9" height="8.95" fill="#67a03f"/>
<rect x="388.15" y="204.60" width="3.9" height="33.15" fill="#86c04f"/>
<rect x="388.15" y="237.70" width="3.9" height="34.15" fill="#2a80d2"/>
<rect x="388.15" y="271.80" width="3.9" height="76.95" fill="#5aa2e2"/>
<rect x="393.44" y="198.40" width="3.9" height="2.35" fill="#c9a3d9"/>
<rect x="393.44" y="200.70" width="3.9" height="15.85" fill="#67a03f"/>
<rect x="393.44" y="216.50" width="3.9" height="26.75" fill="#86c04f"/>
<rect x="393.44" y="243.20" width="3.9" height="30.85" fill="#2a80d2"/>
<rect x="393.44" y="274.00" width="3.9" height="74.75" fill="#5aa2e2"/>
<rect x="398.74" y="218.00" width="3.9" height="3.15" fill="#c9a3d9"/>
<rect x="398.74" y="221.10" width="3.9" height="10.55" fill="#67a03f"/>
<rect x="398.74" y="231.60" width="3.9" height="23.05" fill="#86c04f"/>
<rect x="398.74" y="254.60" width="3.9" height="22.85" fill="#2a80d2"/>
<rect x="398.74" y="277.40" width="3.9" height="71.35" fill="#5aa2e2"/>
<rect x="404.03" y="208.50" width="3.9" height="3.85" fill="#c9a3d9"/>
<rect x="404.03" y="212.30" width="3.9" height="6.15" fill="#67a03f"/>
<rect x="404.03" y="218.40" width="3.9" height="26.45" fill="#86c04f"/>
<rect x="404.03" y="244.80" width="3.9" height="20.55" fill="#2a80d2"/>
<rect x="404.03" y="265.30" width="3.9" height="83.45" fill="#5aa2e2"/>
<rect x="409.33" y="192.80" width="3.9" height="2.65" fill="#c9a3d9"/>
<rect x="409.33" y="195.40" width="3.9" height="8.35" fill="#67a03f"/>
<rect x="409.33" y="203.70" width="3.9" height="22.85" fill="#86c04f"/>
<rect x="409.33" y="226.50" width="3.9" height="24.05" fill="#2a80d2"/>
<rect x="409.33" y="250.50" width="3.9" height="98.25" fill="#5aa2e2"/>
<rect x="414.62" y="197.40" width="3.9" height="2.35" fill="#c9a3d9"/>
<rect x="414.62" y="199.70" width="3.9" height="9.75" fill="#67a03f"/>
<rect x="414.62" y="209.40" width="3.9" height="21.15" fill="#86c04f"/>
<rect x="414.62" y="230.50" width="3.9" height="30.05" fill="#2a80d2"/>
<rect x="414.62" y="260.50" width="3.9" height="88.25" fill="#5aa2e2"/>
<rect x="419.91" y="181.30" width="3.9" height="7.25" fill="#c9a3d9"/>
<rect x="419.91" y="188.50" width="3.9" height="8.95" fill="#67a03f"/>
<rect x="419.91" y="197.40" width="3.9" height="21.15" fill="#86c04f"/>
<rect x="419.91" y="218.50" width="3.9" height="35.55" fill="#2a80d2"/>
<rect x="419.91" y="254.00" width="3.9" height="94.75" fill="#5aa2e2"/>
<rect x="425.21" y="204.60" width="3.9" height="3.45" fill="#c9a3d9"/>
<rect x="425.21" y="208.00" width="3.9" height="10.05" fill="#67a03f"/>
<rect x="425.21" y="218.00" width="3.9" height="21.75" fill="#86c04f"/>
<rect x="425.21" y="239.70" width="3.9" height="28.55" fill="#2a80d2"/>
<rect x="425.21" y="268.20" width="3.9" height="80.55" fill="#5aa2e2"/>
<rect x="430.50" y="215.10" width="3.9" height="5.25" fill="#c9a3d9"/>
<rect x="430.50" y="220.30" width="3.9" height="17.15" fill="#67a03f"/>
<rect x="430.50" y="237.40" width="3.9" height="17.95" fill="#86c04f"/>
<rect x="430.50" y="255.30" width="3.9" height="28.95" fill="#2a80d2"/>
<rect x="430.50" y="284.20" width="3.9" height="64.55" fill="#5aa2e2"/>
<rect x="435.79" y="240.20" width="3.9" height="4.85" fill="#c9a3d9"/>
<rect x="435.79" y="245.00" width="3.9" height="9.05" fill="#67a03f"/>
<rect x="435.79" y="254.00" width="3.9" height="21.65" fill="#86c04f"/>
<rect x="435.79" y="275.60" width="3.9" height="28.85" fill="#2a80d2"/>
<rect x="435.79" y="304.40" width="3.9" height="44.35" fill="#5aa2e2"/>
<rect x="441.09" y="251.10" width="3.9" height="9.25" fill="#c9a3d9"/>
<rect x="441.09" y="260.30" width="3.9" height="7.35" fill="#67a03f"/>
<rect x="441.09" y="267.60" width="3.9" height="23.45" fill="#86c04f"/>
<rect x="441.09" y="291.00" width="3.9" height="22.75" fill="#2a80d2"/>
<rect x="441.09" y="313.70" width="3.9" height="35.05" fill="#5aa2e2"/>
<rect x="446.38" y="240.80" width="3.9" height="4.95" fill="#c9a3d9"/>
<rect x="446.38" y="245.70" width="3.9" height="7.15" fill="#67a03f"/>
<rect x="446.38" y="252.80" width="3.9" height="23.45" fill="#86c04f"/>
<rect x="446.38" y="276.20" width="3.9" height="30.65" fill="#2a80d2"/>
<rect x="446.38" y="306.80" width="3.9" height="41.95" fill="#5aa2e2"/>
<rect x="451.68" y="238.50" width="3.9" height="5.25" fill="#c9a3d9"/>
<rect x="451.68" y="243.70" width="3.9" height="9.15" fill="#67a03f"/>
<rect x="451.68" y="252.80" width="3.9" height="24.05" fill="#86c04f"/>
<rect x="451.68" y="276.80" width="3.9" height="23.75" fill="#2a80d2"/>
<rect x="451.68" y="300.50" width="3.9" height="48.25" fill="#5aa2e2"/>
<rect x="456.97" y="231.10" width="3.9" height="5.15" fill="#c9a3d9"/>
<rect x="456.97" y="236.20" width="3.9" height="10.95" fill="#67a03f"/>
<rect x="456.97" y="247.10" width="3.9" height="23.45" fill="#86c04f"/>
<rect x="456.97" y="270.50" width="3.9" height="24.35" fill="#2a80d2"/>
<rect x="456.97" y="294.80" width="3.9" height="53.95" fill="#5aa2e2"/>
<rect x="462.26" y="215.50" width="3.9" height="1.05" fill="#d9cf86"/>
<rect x="462.26" y="216.50" width="3.9" height="13.45" fill="#67a03f"/>
<rect x="462.26" y="229.90" width="3.9" height="26.65" fill="#86c04f"/>
<rect x="462.26" y="256.50" width="3.9" height="32.95" fill="#2a80d2"/>
<rect x="462.26" y="289.40" width="3.9" height="59.35" fill="#5aa2e2"/>
<rect x="467.56" y="243.10" width="3.9" height="2.95" fill="#dfb8ae"/>
<rect x="467.56" y="246.00" width="3.9" height="9.15" fill="#67a03f"/>
<rect x="467.56" y="255.10" width="3.9" height="17.75" fill="#86c04f"/>
<rect x="467.56" y="272.80" width="3.9" height="23.55" fill="#2a80d2"/>
<rect x="467.56" y="296.30" width="3.9" height="52.45" fill="#5aa2e2"/>
<rect x="472.85" y="243.90" width="3.9" height="1.85" fill="#dfb8ae"/>
<rect x="472.85" y="245.70" width="3.9" height="8.95" fill="#67a03f"/>
<rect x="472.85" y="254.60" width="3.9" height="21.05" fill="#86c04f"/>
<rect x="472.85" y="275.60" width="3.9" height="24.95" fill="#2a80d2"/>
<rect x="472.85" y="300.50" width="3.9" height="48.25" fill="#5aa2e2"/>
<rect x="478.06" y="217.20" width="3.9" height="2.65" fill="#d2c9de"/>
<rect x="478.06" y="219.80" width="3.9" height="7.25" fill="#67a03f"/>
<rect x="478.06" y="227.00" width="3.9" height="29.85" fill="#86c04f"/>
<rect x="478.06" y="256.80" width="3.9" height="27.45" fill="#2a80d2"/>
<rect x="478.06" y="284.20" width="3.9" height="64.55" fill="#5aa2e2"/>
<rect x="483.28" y="200.40" width="3.9" height="4.35" fill="#c9a3d9"/>
<rect x="483.28" y="204.70" width="3.9" height="14.35" fill="#67a03f"/>
<rect x="483.28" y="219.00" width="3.9" height="21.85" fill="#86c04f"/>
<rect x="483.28" y="240.80" width="3.9" height="29.75" fill="#2a80d2"/>
<rect x="483.28" y="270.50" width="3.9" height="78.25" fill="#5aa2e2"/>
<rect x="488.49" y="225.10" width="3.9" height="4.85" fill="#dfb8ae"/>
<rect x="488.49" y="229.90" width="3.9" height="7.55" fill="#67a03f"/>
<rect x="488.49" y="237.40" width="3.9" height="18.45" fill="#86c04f"/>
<rect x="488.49" y="255.80" width="3.9" height="34.85" fill="#2a80d2"/>
<rect x="488.49" y="290.60" width="3.9" height="58.15" fill="#5aa2e2"/>
<rect x="488.49" y="225.10" width="3.9" height="1" fill="#e8905e"/>
<rect x="493.70" y="217.90" width="3.9" height="2.35" fill="#cfe0c0"/>
<rect x="493.70" y="220.20" width="3.9" height="9.75" fill="#67a03f"/>
<rect x="493.70" y="229.90" width="3.9" height="28.15" fill="#86c04f"/>
<rect x="493.70" y="258.00" width="3.9" height="36.65" fill="#2a80d2"/>
<rect x="493.70" y="294.60" width="3.9" height="54.15" fill="#5aa2e2"/>
<rect x="498.91" y="248.00" width="3.9" height="2.85" fill="#c9a3d9"/>
<rect x="498.91" y="250.80" width="3.9" height="12.25" fill="#67a03f"/>
<rect x="498.91" y="263.00" width="3.9" height="21.85" fill="#86c04f"/>
<rect x="498.91" y="284.80" width="3.9" height="25.85" fill="#2a80d2"/>
<rect x="498.91" y="310.60" width="3.9" height="38.15" fill="#5aa2e2"/>
<rect x="504.13" y="243.90" width="3.9" height="4.65" fill="#c9a3d9"/>
<rect x="504.13" y="248.50" width="3.9" height="11.15" fill="#67a03f"/>
<rect x="504.13" y="259.60" width="3.9" height="17.85" fill="#86c04f"/>
<rect x="504.13" y="277.40" width="3.9" height="30.45" fill="#2a80d2"/>
<rect x="504.13" y="307.80" width="3.9" height="40.95" fill="#5aa2e2"/>
<rect x="509.34" y="235.10" width="3.9" height="4.65" fill="#c9a3d9"/>
<rect x="509.34" y="239.70" width="3.9" height="11.45" fill="#67a03f"/>
<rect x="509.34" y="251.10" width="3.9" height="23.45" fill="#86c04f"/>
<rect x="509.34" y="274.50" width="3.9" height="25.85" fill="#2a80d2"/>
<rect x="509.34" y="300.30" width="3.9" height="48.45" fill="#5aa2e2"/>
<rect x="514.55" y="245.40" width="3.9" height="6.55" fill="#c9a3d9"/>
<rect x="514.55" y="251.90" width="3.9" height="11.75" fill="#67a03f"/>
<rect x="514.55" y="263.60" width="3.9" height="9.75" fill="#86c04f"/>
<rect x="514.55" y="273.30" width="3.9" height="29.95" fill="#2a80d2"/>
<rect x="514.55" y="303.20" width="3.9" height="45.55" fill="#5aa2e2"/>
<rect x="519.76" y="247.10" width="3.9" height="4.45" fill="#dca4c4"/>
<rect x="519.76" y="251.50" width="3.9" height="10.45" fill="#67a03f"/>
<rect x="519.76" y="261.90" width="3.9" height="3.45" fill="#86c04f"/>
<rect x="519.76" y="265.30" width="3.9" height="38.15" fill="#2a80d2"/>
<rect x="519.76" y="303.40" width="3.9" height="45.35" fill="#5aa2e2"/>
<rect x="524.98" y="273.30" width="3.9" height="2.15" fill="#c9a3d9"/>
<rect x="524.98" y="275.40" width="3.9" height="12.35" fill="#67a03f"/>
<rect x="524.98" y="287.70" width="3.9" height="27.05" fill="#2a80d2"/>
<rect x="524.98" y="314.70" width="3.9" height="34.05" fill="#5aa2e2"/>
<rect x="530.19" y="254.00" width="3.9" height="7.35" fill="#c9a3d9"/>
<rect x="530.19" y="261.30" width="3.9" height="14.35" fill="#67a03f"/>
<rect x="530.19" y="275.60" width="3.9" height="29.95" fill="#2a80d2"/>
<rect x="530.19" y="305.50" width="3.9" height="43.25" fill="#5aa2e2"/>
<rect x="535.40" y="265.30" width="3.9" height="4.65" fill="#c9a3d9"/>
<rect x="535.40" y="269.90" width="3.9" height="11.55" fill="#67a03f"/>
<rect x="535.40" y="281.40" width="3.9" height="28.15" fill="#2a80d2"/>
<rect x="535.40" y="309.50" width="3.9" height="39.25" fill="#5aa2e2"/>
<rect x="540.61" y="256.50" width="3.9" height="3.75" fill="#c9a3d9"/>
<rect x="540.61" y="260.20" width="3.9" height="11.45" fill="#67a03f"/>
<rect x="540.61" y="271.60" width="3.9" height="29.35" fill="#2a80d2"/>
<rect x="540.61" y="300.90" width="3.9" height="47.85" fill="#5aa2e2"/>
<rect x="545.83" y="262.30" width="3.9" height="3.35" fill="#c9a3d9"/>
<rect x="545.83" y="265.60" width="3.9" height="15.85" fill="#67a03f"/>
<rect x="545.83" y="281.40" width="3.9" height="26.95" fill="#2a80d2"/>
<rect x="545.83" y="308.30" width="3.9" height="40.45" fill="#5aa2e2"/>
<rect x="551.04" y="271.90" width="3.9" height="2.35" fill="#c9a3d9"/>
<rect x="551.04" y="274.20" width="3.9" height="17.35" fill="#67a03f"/>
<rect x="551.04" y="291.50" width="3.9" height="21.45" fill="#2a80d2"/>
<rect x="551.04" y="312.90" width="3.9" height="35.85" fill="#5aa2e2"/>
<rect x="556.25" y="242.60" width="3.9" height="3.65" fill="#dca4c4"/>
<rect x="556.25" y="246.20" width="3.9" height="12.65" fill="#67a03f"/>
<rect x="556.25" y="258.80" width="3.9" height="40.95" fill="#2a80d2"/>
<rect x="556.25" y="299.70" width="3.9" height="49.05" fill="#5aa2e2"/>
<rect x="561.39" y="244.00" width="3.9" height="2.35" fill="#d2c9de"/>
<rect x="561.39" y="246.30" width="3.9" height="19.85" fill="#67a03f"/>
<rect x="561.39" y="266.10" width="3.9" height="32.15" fill="#2a80d2"/>
<rect x="561.39" y="298.20" width="3.9" height="50.55" fill="#5aa2e2"/>
<rect x="566.54" y="253.50" width="3.9" height="3.25" fill="#c9a3d9"/>
<rect x="566.54" y="256.70" width="3.9" height="10.55" fill="#67a03f"/>
<rect x="566.54" y="267.20" width="3.9" height="28.15" fill="#2a80d2"/>
<rect x="566.54" y="295.30" width="3.9" height="53.45" fill="#5aa2e2"/>
<rect x="571.68" y="219.00" width="3.9" height="1.55" fill="#d2c9de"/>
<rect x="571.68" y="220.50" width="3.9" height="13.25" fill="#67a03f"/>
<rect x="571.68" y="233.70" width="3.9" height="32.45" fill="#2a80d2"/>
<rect x="571.68" y="266.10" width="3.9" height="82.65" fill="#5aa2e2"/>
<rect x="576.82" y="232.90" width="3.9" height="2.15" fill="#d2c9de"/>
<rect x="576.82" y="235.00" width="3.9" height="12.45" fill="#67a03f"/>
<rect x="576.82" y="247.40" width="3.9" height="38.45" fill="#2a80d2"/>
<rect x="576.82" y="285.80" width="3.9" height="62.95" fill="#5aa2e2"/>
<rect x="581.96" y="263.80" width="3.9" height="1.35" fill="#d9cf86"/>
<rect x="581.96" y="265.10" width="3.9" height="9.05" fill="#67a03f"/>
<rect x="581.96" y="274.10" width="3.9" height="32.85" fill="#2a80d2"/>
<rect x="581.96" y="306.90" width="3.9" height="41.85" fill="#5aa2e2"/>
<rect x="587.11" y="260.10" width="3.9" height="1.45" fill="#d2c9de"/>
<rect x="587.11" y="261.50" width="3.9" height="12.05" fill="#67a03f"/>
<rect x="587.11" y="273.50" width="3.9" height="32.55" fill="#2a80d2"/>
<rect x="587.11" y="306.00" width="3.9" height="42.75" fill="#5aa2e2"/>
<rect x="592.25" y="225.90" width="3.9" height="0.65" fill="#b8d8a0"/>
<rect x="592.25" y="226.50" width="3.9" height="11.85" fill="#67a03f"/>
<rect x="592.25" y="238.30" width="3.9" height="34.65" fill="#2a80d2"/>
<rect x="592.25" y="272.90" width="3.9" height="75.85" fill="#5aa2e2"/>
<rect x="597.39" y="235.00" width="3.9" height="3.55" fill="#c9a3d9"/>
<rect x="597.39" y="238.50" width="3.9" height="12.55" fill="#67a03f"/>
<rect x="597.39" y="251.00" width="3.9" height="25.95" fill="#2a80d2"/>
<rect x="597.39" y="276.90" width="3.9" height="71.85" fill="#5aa2e2"/>
<rect x="602.54" y="251.70" width="3.9" height="7.55" fill="#c9a3d9"/>
<rect x="602.54" y="259.20" width="3.9" height="10.95" fill="#67a03f"/>
<rect x="602.54" y="270.10" width="3.9" height="33.35" fill="#2a80d2"/>
<rect x="602.54" y="303.40" width="3.9" height="45.35" fill="#5aa2e2"/>
<rect x="607.68" y="246.30" width="3.9" height="6.25" fill="#c9a3d9"/>
<rect x="607.68" y="252.50" width="3.9" height="11.85" fill="#67a03f"/>
<rect x="607.68" y="264.30" width="3.9" height="29.35" fill="#2a80d2"/>
<rect x="607.68" y="293.60" width="3.9" height="55.15" fill="#5aa2e2"/>
<rect x="612.82" y="207.90" width="3.9" height="4.95" fill="#c9a3d9"/>
<rect x="612.82" y="212.80" width="3.9" height="13.15" fill="#67a03f"/>
<rect x="612.82" y="225.90" width="3.9" height="35.65" fill="#2a80d2"/>
<rect x="612.82" y="261.50" width="3.9" height="87.25" fill="#5aa2e2"/>
<rect x="617.96" y="217.90" width="3.9" height="1.85" fill="#d2c9de"/>
<rect x="617.96" y="219.70" width="3.9" height="7.55" fill="#67a03f"/>
<rect x="617.96" y="227.20" width="3.9" height="32.65" fill="#2a80d2"/>
<rect x="617.96" y="259.80" width="3.9" height="88.95" fill="#5aa2e2"/>
<rect x="623.11" y="215.40" width="3.9" height="3.75" fill="#dfb8ae"/>
<rect x="623.11" y="219.10" width="3.9" height="11.35" fill="#67a03f"/>
<rect x="623.11" y="230.40" width="3.9" height="30.15" fill="#2a80d2"/>
<rect x="623.11" y="260.50" width="3.9" height="88.25" fill="#5aa2e2"/>
<rect x="628.25" y="188.80" width="3.9" height="3.15" fill="#c9a3d9"/>
<rect x="628.25" y="191.90" width="3.9" height="14.05" fill="#67a03f"/>
<rect x="628.25" y="205.90" width="3.9" height="32.45" fill="#2a80d2"/>
<rect x="628.25" y="238.30" width="3.9" height="110.45" fill="#5aa2e2"/>
<rect x="633.37" y="192.60" width="3.9" height="5.15" fill="#c9a3d9"/>
<rect x="633.37" y="197.70" width="3.9" height="13.75" fill="#67a03f"/>
<rect x="633.37" y="211.40" width="3.9" height="47.85" fill="#2a80d2"/>
<rect x="633.37" y="259.20" width="3.9" height="89.55" fill="#5aa2e2"/>
<rect x="638.48" y="202.00" width="3.9" height="2.65" fill="#c9a3d9"/>
<rect x="638.48" y="204.60" width="3.9" height="13.75" fill="#67a03f"/>
<rect x="638.48" y="218.30" width="3.9" height="46.25" fill="#2a80d2"/>
<rect x="638.48" y="264.50" width="3.9" height="84.25" fill="#5aa2e2"/>
<rect x="643.60" y="175.90" width="3.9" height="16.45" fill="#c9a3d9"/>
<rect x="643.60" y="192.30" width="3.9" height="11.75" fill="#67a03f"/>
<rect x="643.60" y="204.00" width="3.9" height="40.25" fill="#2a80d2"/>
<rect x="643.60" y="244.20" width="3.9" height="104.55" fill="#5aa2e2"/>
<rect x="643.60" y="175.90" width="3.9" height="1" fill="#e8b090"/>
<rect x="648.71" y="201.00" width="3.9" height="5.95" fill="#dca4c4"/>
<rect x="648.71" y="206.90" width="3.9" height="15.55" fill="#67a03f"/>
<rect x="648.71" y="222.40" width="3.9" height="41.55" fill="#2a80d2"/>
<rect x="648.71" y="263.90" width="3.9" height="84.85" fill="#5aa2e2"/>
<rect x="653.83" y="207.10" width="3.9" height="5.55" fill="#c9a3d9"/>
<rect x="653.83" y="212.60" width="3.9" height="18.95" fill="#67a03f"/>
<rect x="653.83" y="231.50" width="3.9" height="29.55" fill="#2a80d2"/>
<rect x="653.83" y="261.00" width="3.9" height="87.75" fill="#5aa2e2"/>
<rect x="658.94" y="196.30" width="3.9" height="6.25" fill="#c9a3d9"/>
<rect x="658.94" y="202.50" width="3.9" height="13.65" fill="#67a03f"/>
<rect x="658.94" y="216.10" width="3.9" height="29.25" fill="#2a80d2"/>
<rect x="658.94" y="245.30" width="3.9" height="103.45" fill="#5aa2e2"/>
<rect x="664.05" y="182.30" width="3.9" height="6.25" fill="#c9a3d9"/>
<rect x="664.05" y="188.50" width="3.9" height="15.55" fill="#67a03f"/>
<rect x="664.05" y="204.00" width="3.9" height="39.05" fill="#2a80d2"/>
<rect x="664.05" y="243.00" width="3.9" height="105.75" fill="#5aa2e2"/>
<rect x="669.17" y="196.90" width="3.9" height="4.05" fill="#e08a98"/>
<rect x="669.17" y="200.90" width="3.9" height="15.25" fill="#67a03f"/>
<rect x="669.17" y="216.10" width="3.9" height="35.25" fill="#2a80d2"/>
<rect x="669.17" y="251.30" width="3.9" height="97.45" fill="#5aa2e2"/>
<rect x="674.28" y="161.70" width="3.9" height="3.45" fill="#d2c9de"/>
<rect x="674.28" y="165.10" width="3.9" height="14.65" fill="#67a03f"/>
<rect x="674.28" y="179.70" width="3.9" height="39.85" fill="#2a80d2"/>
<rect x="674.28" y="219.50" width="3.9" height="129.25" fill="#5aa2e2"/>
<rect x="679.40" y="125.50" width="3.9" height="3.45" fill="#dca4c4"/>
<rect x="679.40" y="128.90" width="3.9" height="17.85" fill="#67a03f"/>
<rect x="679.40" y="146.70" width="3.9" height="35.35" fill="#2a80d2"/>
<rect x="679.40" y="182.00" width="3.9" height="166.75" fill="#5aa2e2"/>
<rect x="684.65" y="136.40" width="3.9" height="3.45" fill="#c9a3d9"/>
<rect x="684.65" y="139.80" width="3.9" height="18.55" fill="#67a03f"/>
<rect x="684.65" y="158.30" width="3.9" height="46.35" fill="#2a80d2"/>
<rect x="684.65" y="204.60" width="3.9" height="144.15" fill="#5aa2e2"/>
<rect x="689.90" y="137.90" width="3.9" height="4.25" fill="#b48fd6"/>
<rect x="689.90" y="142.10" width="3.9" height="22.15" fill="#67a03f"/>
<rect x="689.90" y="164.20" width="3.9" height="39.85" fill="#2a80d2"/>
<rect x="689.90" y="204.00" width="3.9" height="144.75" fill="#5aa2e2"/>
<rect x="695.15" y="211.50" width="3.9" height="0.55" fill="#b8d8a0"/>
<rect x="695.15" y="212.00" width="3.9" height="16.15" fill="#67a03f"/>
<rect x="695.15" y="228.10" width="3.9" height="28.95" fill="#2a80d2"/>
<rect x="695.15" y="257.00" width="3.9" height="91.75" fill="#5aa2e2"/>
</g>
<g fill="#ffffff" opacity="0.115">
<ellipse cx="219" cy="192.8" rx="6.2" ry="3.6" transform="rotate(35 219 192.8)"/>
<ellipse cx="208.5" cy="207.6" rx="8.4" ry="3.1" transform="rotate(-6 208.5 207.6)"/>
<ellipse cx="226.4" cy="200.8" rx="2.4" ry="2.1"/>
<ellipse cx="223.2" cy="207.5" rx="2.6" ry="2.3"/>
<ellipse cx="225.8" cy="214.4" rx="2.9" ry="2.5"/>
<ellipse cx="214" cy="226.5" rx="5.2" ry="2.6" transform="rotate(-15 214 226.5)"/>
<ellipse cx="236" cy="196" rx="3" ry="4.5" transform="rotate(20 236 196)"/>
<ellipse cx="245.5" cy="203" rx="6" ry="8.5"/>
<ellipse cx="264" cy="204" rx="4.5" ry="7" transform="rotate(-15 264 204)"/>
<text x="265.5" y="221.6" font-size="28.5" fill="#ffffff">Footprint</text>
<text x="401.9" y="221.6" font-size="28.5" fill="#ffffff">Analytics</text>
</g>
<text x="358.4" y="362.0" font-size="9.4" text-anchor="middle" fill="#e6e7ec">September 1, 2023</text>
<text x="517.3" y="362.0" font-size="9.4" text-anchor="middle" fill="#e6e7ec">October 1, 2023</text>
<text x="716" y="362.0" font-size="9.4" text-anchor="end" fill="#e6e7ec">November 1, 2023</text>
<text x="465.3" y="381.2" font-size="11" text-anchor="middle" fill="#e6e7ec">Block Timestamp</text>
<g fill="#a3a7bd" stroke="none">
<path d="M588.7 46.5h9.7a0.8 0.8 0 0 1 0.8 0.8v9.2a0.8 0.8 0 0 1-0.8 0.8h-9.7a0.8 0.8 0 0 1-0.8-0.8v-9.2a0.8 0.8 0 0 1 0.8-0.8z"/>
<g stroke="#192033" stroke-width="0.9"><line x1="589.4" y1="48.7" x2="597.8" y2="48.7"/><line x1="589.4" y1="50.9" x2="594.6" y2="50.9"/><line x1="589.4" y1="53.1" x2="593.2" y2="53.1"/><line x1="589.4" y1="55.2" x2="592.4" y2="55.2" opacity="0.6"/></g>
<circle cx="597.2" cy="54.8" r="2.5" fill="#a3a7bd" stroke="#192033" stroke-width="0.9"/>
<line x1="598.6" y1="56.2" x2="599.8" y2="57.4" stroke="#a3a7bd" stroke-width="1.3"/>
<rect x="615.2" y="49.3" width="7.4" height="7.6" rx="0.7"/>
<path d="M617.4 47.5h7.2v7.4" fill="none" stroke="#a3a7bd" stroke-width="1.2"/>
<path d="M650.4 55a4.2 4.2 0 1 1-0.5-5.5" fill="none" stroke="#a3a7bd" stroke-width="1.8"/>
<path d="M652.6 46.6v5.2h-5.2z"/>
<path d="M672.8 44.8h4.4v4.4h3.1l-5.3 5.2-5.3-5.2h3.1z"/><rect x="669.3" y="55.8" width="11.7" height="1.5"/>
<path d="M698.2 44.9h11v7.6l-5.5 4.9-5.5-4.9z"/>
<text x="703.7" y="50.4" font-size="5.2" text-anchor="middle" fill="#192033">API</text>
<circle cx="703.7" cy="52.6" r="1.05" fill="#192033"/>
<path d="M702.2 55.4l1.5-1.8 1.5 1.8" fill="none" stroke="#192033" stroke-width="0.8"/>
</g>
</g>
</svg>
</body></html>
